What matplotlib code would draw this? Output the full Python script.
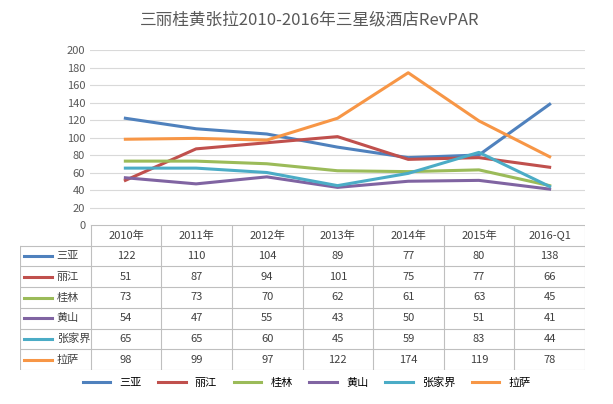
import matplotlib.pyplot as plt
from matplotlib.lines import Line2D

plt.rcParams['font.family'] = ['Noto Sans CJK SC', 'DejaVu Sans']

years = ['2010年', '2011年', '2012年', '2013年', '2014年', '2015年', '2016-Q1']
cities = ['三亚', '丽江', '桂林', '黄山', '张家界', '拉萨']
sanya = [122, 110, 104, 89, 77, 80, 138]
lijiang = [51, 87, 94, 101, 75, 77, 66]
guilin = [73, 73, 70, 62, 61, 63, 45]
huangshan = [54, 47, 55, 43, 50, 51, 41]
zhangjiajie = [65, 65, 60, 45, 59, 83, 44]
lasa = [98, 99, 97, 122, 174, 119, 78]
series = [sanya, lijiang, guilin, huangshan, zhangjiajie, lasa]
colors = ['#4f81bd', '#c0504d', '#9bbb59', '#8064a2', '#4bacc6', '#f79646']

fig = plt.figure(figsize=(6.13, 4.04), dpi=100)
ax = fig.add_axes([90/613, 1-225/404, 495/613, 175/404])
x = list(range(len(years)))
for vals, c in zip(series, colors):
    ax.plot(x, vals, color=c, lw=2.2)
ax.set_xlim(-0.5, 6.5)
ax.set_ylim(0, 200)
ax.set_yticks(range(0, 201, 20))
ax.set_xticks([])
ax.tick_params(axis='y', length=0, labelsize=8, colors='#595959')
ax.grid(axis='y', color='#d9d9d9', lw=0.8)
for s in ax.spines.values():
    s.set_visible(False)
fig.text(0.505, 1-20/404, '三丽桂黄张拉2010-2016年三星级酒店RevPAR', fontsize=12,
         color='#595959', ha='center', va='center')

# data table
tb = fig.add_axes([20/613, 1-370/404, 565/613, 145/404])
tb.set_xlim(-1.5, 6.5)
tb.set_ylim(7, 0)
tb.axis('off')
lc = '#bfbfbf'
for r in range(8):
    x0 = -0.5 if r == 0 else -1.5
    tb.plot([x0, 6.5], [r, r], color=lc, lw=0.8)
for k in range(-1, 8):
    xv = k - 0.5
    y0 = 1 if k == -1 else 0
    tb.plot([xv, xv], [y0, 7], color=lc, lw=0.8)
for i, yl in enumerate(years):
    tb.text(i, 0.5, yl, ha='center', va='center', fontsize=8, color='#404040')
for r, (name, vals, c) in enumerate(zip(cities, series, colors), start=1):
    tb.plot([-1.45, -1.05], [r+0.5, r+0.5], color=c, lw=2.2)
    tb.text(-0.98, r+0.5, name, ha='left', va='center', fontsize=8, color='#404040')
    for i, v in enumerate(vals):
        tb.text(i, r+0.5, str(v), ha='center', va='center', fontsize=8, color='#404040')

handles = [Line2D([], [], color=c, lw=2.2) for c in colors]
fig.legend(handles, cities, loc='center', bbox_to_anchor=(0.5, 1-383/404), ncol=6,
           frameon=False, fontsize=8, handlelength=2.5, columnspacing=1.5)
fig.savefig('out.png', facecolor='white')
